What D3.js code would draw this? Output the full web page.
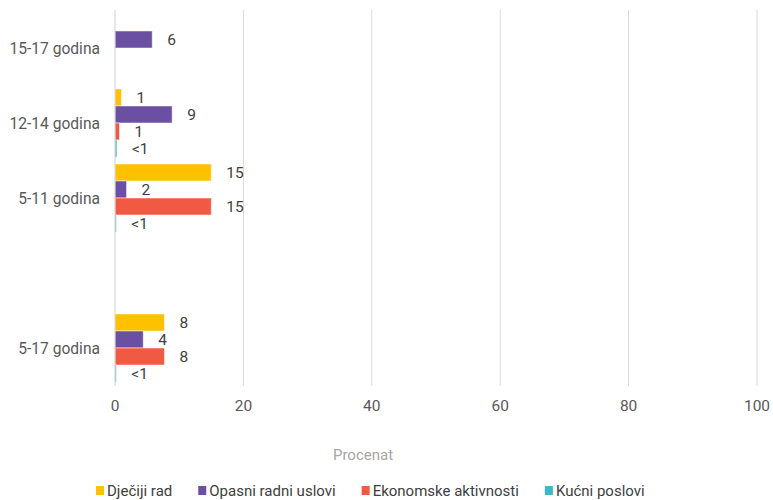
<!DOCTYPE html>
<html>
<head>
<meta charset="utf-8">
<script src="https://cdn.jsdelivr.net/npm/d3@7"></script>
<style>
  body { margin: 0; background: #fff; }
  text { font-family: "Roboto", "Liberation Sans", sans-serif; }
</style>
</head>
<body>
<svg id="chart" width="773" height="500"></svg>
<script>
const categories = ["15-17 godina", "12-14 godina", "5-11 godina", "", "5-17 godina"];
const seriesNames = ["Dječiji rad", "Opasni radni uslovi", "Ekonomske aktivnosti", "Kućni poslovi"];
const seriesColors = ["#FFC000", "#6A4FA3", "#F15A42", "#3CB8C6"];
// values per category, in series order (null = no bar)
const djecijiRad = [null, 1, 15, null, 7.7];
const opasniRadniUslovi = [5.8, 8.9, 1.8, null, 4.4];
const ekonomskeAktivnosti = [null, 0.7, 15, null, 7.7];
const kucniPoslovi = [null, 0.3, 0.2, null, 0.2];
const djecijiRadLabels = ["", "1", "15", "", "8"];
const opasniLabels = ["6", "9", "2", "", "4"];
const ekonomskeLabels = ["", "1", "15", "", "8"];
const kucniLabels = ["", "<1", "<1", "", "<1"];
const xTicks = [0, 20, 40, 60, 80, 100];

const seriesValues = [djecijiRad, opasniRadniUslovi, ekonomskeAktivnosti, kucniPoslovi];
const seriesLabels = [djecijiRadLabels, opasniLabels, ekonomskeLabels, kucniLabels];

const svg = d3.select("#chart");
const x = d3.scaleLinear().domain([0, 100]).range([115, 757]);
const y = d3.scaleBand().domain(categories.map((c, i) => i)).range([10.5, 385.5]).paddingInner(0.093).paddingOuter(0.0465);
const ys = d3.scaleBand().domain(d3.range(seriesNames.length)).range([0, y.bandwidth()]).padding(0);

// gridlines
svg.append("g").selectAll("line").data(xTicks.slice(1)).join("line")
  .attr("x1", d => x(d)).attr("x2", d => x(d))
  .attr("y1", 10).attr("y2", 386)
  .attr("stroke", "#d9d9d9").attr("stroke-width", 1);

// x tick labels
svg.append("g").selectAll("text").data(xTicks).join("text")
  .attr("x", d => x(d)).attr("y", 411)
  .attr("text-anchor", "middle")
  .attr("fill", "#595959").attr("font-size", 15.5)
  .text(d => d);

// bars
const data = [];
categories.forEach((c, ci) => {
  seriesValues.forEach((vals, si) => {
    if (vals[ci] !== null) data.push({ ci, si, v: vals[ci], label: seriesLabels[si][ci] });
  });
});

svg.append("g").selectAll("rect").data(data).join("rect")
  .attr("x", x(0))
  .attr("y", d => y(d.ci) + ys(d.si))
  .attr("width", d => x(d.v) - x(0))
  .attr("height", ys.bandwidth())
  .attr("fill", d => seriesColors[d.si])
  .attr("stroke", "#ffffff").attr("stroke-opacity", 0.5).attr("stroke-width", 1);

svg.append("g").selectAll("text").data(data).join("text")
  .attr("x", d => x(d.v) + 15)
  .attr("y", d => y(d.ci) + ys(d.si) + ys.bandwidth() / 2)
  .attr("dy", "0.36em")
  .attr("fill", "#404040").attr("font-size", 15.5)
  .text(d => d.label);

// y axis line
svg.append("line")
  .attr("x1", x(0)).attr("x2", x(0)).attr("y1", 10).attr("y2", 386)
  .attr("stroke", "#d0d0d0").attr("stroke-width", 1);

// category labels
svg.append("g").selectAll("text").data(categories.map((c, i) => ({ c, i }))).join("text")
  .attr("x", 100)
  .attr("y", d => y(d.i) + y.bandwidth() / 2)
  .attr("dy", "0.36em")
  .attr("text-anchor", "end")
  .attr("fill", "#595959").attr("font-size", 15.6)
  .text(d => d.c);

// axis title
svg.append("text")
  .attr("x", 363).attr("y", 460)
  .attr("text-anchor", "middle")
  .attr("fill", "#a6a6a6").attr("font-size", 15)
  .text("Procenat");

// legend
const legend = svg.append("g");
let lx = 96;
seriesNames.forEach((name, i) => {
  const g = legend.append("g");
  g.append("rect").attr("x", lx).attr("y", 486).attr("width", 8).attr("height", 9).attr("fill", seriesColors[i]);
  const t = g.append("text").attr("x", lx + 11).attr("y", 496)
    .attr("fill", "#404040").attr("font-size", 15).text(name);
  lx += 11 + t.node().getComputedTextLength() + 26;
});
</script>
</body>
</html>
